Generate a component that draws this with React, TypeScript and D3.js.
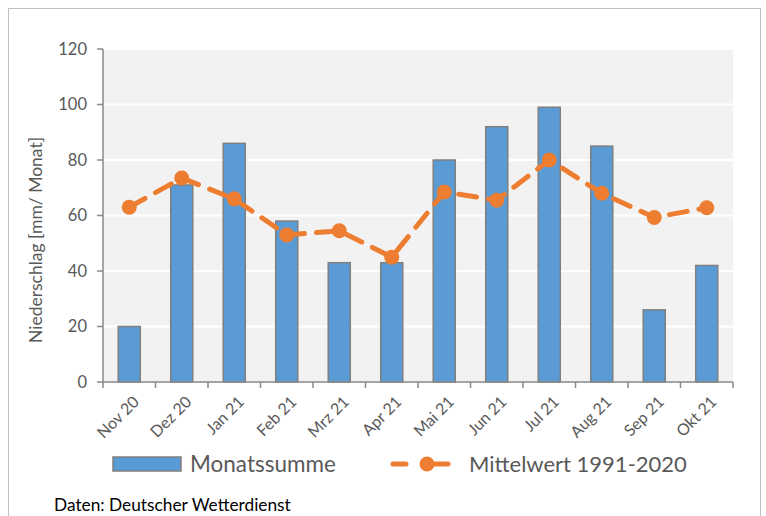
import React from "react";
import * as d3 from "d3";

const categories = ["Nov 20", "Dez 20", "Jan 21", "Feb 21", "Mrz 21", "Apr 21", "Mai 21", "Jun 21", "Jul 21", "Aug 21", "Sep 21", "Okt 21"];
const monatssumme = [20, 71, 86, 58, 43, 43, 80, 92, 99, 85, 26, 42];
const mittelwert = [63, 73.5, 66, 53, 54.5, 45, 68.5, 65.5, 80, 68, 59.3, 62.8];
const yTicks = [0, 20, 40, 60, 80, 100, 120];
const barLabel = "Monatssumme";
const lineLabel = "Mittelwert 1991-2020";
const yTitle = "Niederschlag [mm/ Monat]";
const source = "Daten: Deutscher Wetterdienst";

const FONT = "Lato, 'Open Sans', sans-serif";

export default function App() {
  const W = 766, H = 516;
  const left = 103, right = 733, top = 49, bottom = 382;
  const x = d3.scaleBand<string>().domain(categories).range([left, right]).paddingInner(0.58).paddingOuter(0.29);
  const xc = d3.scaleBand<string>().domain(categories).range([left, right]);
  const y = d3.scaleLinear().domain([0, 120]).range([bottom, top]);
  const line = d3.line<number>().x((_, i) => xc(categories[i])! + xc.bandwidth() / 2).y((d) => y(d));
  const orange = "#ED7D31";
  const blue = "#5B9BD5";
  const grey = "#7F7F7F";
  const textCol = "#595959";

  return (
    <svg width={W} height={H} style={{ position: "absolute", left: 0, top: 0 }} fontFamily={FONT}>
      <rect x={0} y={0} width={W} height={H} fill="#fff" />
      <rect x={8.5} y={8.5} width={752} height={520} fill="#fff" stroke="#BFBFBF" strokeWidth={1} />
      <rect x={left} y={top} width={right - left} height={bottom - top} fill="#F2F2F2" />
      {yTicks.filter((t) => t > 0).map((t) => (
        <line key={t} x1={left} x2={right} y1={y(t)} y2={y(t)} stroke="#fff" strokeWidth={2} />
      ))}
      {yTicks.map((t) => (
        <g key={"yl" + t}>
          <line x1={left - 6} x2={left} y1={y(t)} y2={y(t)} stroke="#898989" strokeWidth={1.5} />
          <text x={left - 16} y={y(t)} dy="0.36em" textAnchor="end" fontSize={16.5} fill={textCol}>{t}</text>
        </g>
      ))}
      {monatssumme.map((v, i) => (
        <rect key={i} x={x(categories[i])} y={y(v)} width={x.bandwidth()} height={bottom - y(v)} fill={blue} stroke={grey} strokeWidth={1.5} />
      ))}
      <line x1={left} x2={left} y1={top} y2={bottom} stroke="#898989" strokeWidth={1.5} />
      <line x1={left} x2={right} y1={bottom} y2={bottom} stroke="#898989" strokeWidth={1.5} />
      {categories.map((c, i) => (
        <line key={"t" + i} x1={xc(c)!} x2={xc(c)!} y1={bottom} y2={bottom + 6} stroke="#898989" strokeWidth={1.5} />
      ))}
      <line x1={right} x2={right} y1={bottom} y2={bottom + 6} stroke="#898989" strokeWidth={1.5} />
      {categories.map((c) => {
        const cx = xc(c)! + xc.bandwidth() / 2 + 3;
        const cy = bottom + 13;
        return (
          <text key={"xl" + c} x={cx} y={cy} transform={`rotate(-45 ${cx} ${cy})`} textAnchor="end" dy="0.7em" fontSize={16} fill={textCol}>{c}</text>
        );
      })}
      <path d={line(mittelwert)!} fill="none" stroke={orange} strokeWidth={5} strokeDasharray="18 12" strokeLinecap="round" />
      {mittelwert.map((v, i) => (
        <circle key={"c" + i} cx={xc(categories[i])! + xc.bandwidth() / 2} cy={y(v)} r={7.5} fill={orange} />
      ))}
      <text transform={`translate(42 ${240}) rotate(-90)`} textAnchor="middle" fontSize={17.5} fill={textCol}>{yTitle}</text>
      <rect x={113} y={457} width={68} height={14} fill={blue} stroke={grey} strokeWidth={1.5} />
      <text x={190} y={472} fontSize={22.5} fill={textCol}>{barLabel}</text>
      <line x1={393} x2={406} y1={464} y2={464} stroke={orange} strokeWidth={5} strokeLinecap="round" />
      <line x1={427} x2={448} y1={464} y2={464} stroke={orange} strokeWidth={5} strokeLinecap="round" />
      <circle cx={427} cy={464} r={7.5} fill={orange} />
      <text x={469} y={472} fontSize={22} fill={textCol}>{lineLabel}</text>
      <text x={54} y={511} fontSize={17.3} fill="#000">{source}</text>
    </svg>
  );
}
